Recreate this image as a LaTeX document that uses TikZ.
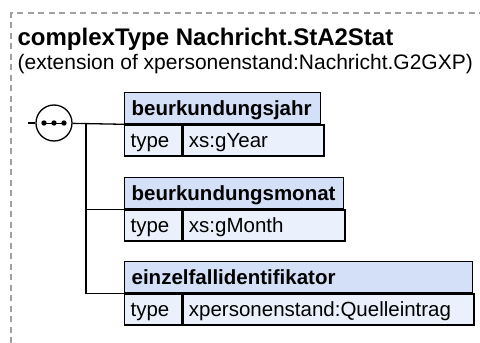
\documentclass[tikz,border=0pt]{standalone}
\usepackage{fontspec}
\setmainfont{Liberation Sans}
\usetikzlibrary{positioning}
\definecolor{hdrblue}{HTML}{D4E0F7}
\definecolor{rowblue}{HTML}{EBF1FC}
\definecolor{frame}{HTML}{A0A0A0}
\begin{document}
\begin{tikzpicture}[x=1pt,y=-1pt,line width=1.3pt,
  hdr/.style={draw,fill=hdrblue,anchor=north west,inner xsep=7pt,inner ysep=0pt,minimum height=31pt,
    text height=15pt,text depth=0pt,align=left,font=\fontsize{20.5}{24}\selectfont\bfseries},
  cell/.style={draw,fill=rowblue,anchor=north west,inner xsep=6pt,inner ysep=0pt,minimum height=31pt,
    text height=15pt,text depth=0pt,align=left,font=\fontsize{20.5}{24}\selectfont}]
\useasboundingbox (0,0) rectangle (480,343);
% frame of the complex type
\draw[frame,line width=1.2pt,dash pattern=on 6pt off 4.5pt] (11,343) -- (11,13) -- (480,13);
\node[anchor=base west,inner sep=0pt,font=\fontsize{24}{28}\selectfont\bfseries] (title) at (17,45) {complexType Nachricht.StA2Stat};
\node[anchor=base west,inner sep=0pt,font=\fontsize{21}{25}\selectfont] (ext) at (17,69) {(extension of xpersonenstand:Nachricht.G2GXP)};
% sequence compositor
\node[draw,circle,fill=white,minimum size=36pt,inner sep=0pt] (seq) at (54,123) {};
\draw[line width=1pt] (44,123) -- (64,123);
\fill (44,123) circle (2.7pt) (54,123) circle (2.7pt) (64,123) circle (2.7pt);
\coordinate (in) at (28,123);
\coordinate (fork) at (86,123);
% elements
\node[hdr,text width=182pt] (h1) at (124,92) {beurkundungsjahr};
\node[cell,text width=45pt] (k1) at (h1.south west) {type};
\node[cell,text width=129pt] (v1) at (k1.north east) {xs:gYear};
\node[hdr,text width=205pt] (h2) at (124,177) {beurkundungsmonat};
\node[cell,text width=45pt] (k2) at (h2.south west) {type};
\node[cell,text width=150pt] (v2) at (k2.north east) {xs:gMonth};
\node[hdr,text width=334pt] (h3) at (124,261) {einzelfallidentifikator};
\node[cell,text width=45pt] (k3) at (h3.south west) {type};
\node[cell,text width=279pt] (v3) at (k3.north east) {xpersonenstand:Quelleintrag};
% connectors
\draw (in) -- (seq);
\draw (seq) -- (h1.south west);
\draw (fork) |- (h2.south west);
\draw (fork) |- (h3.south west);
\end{tikzpicture}
\end{document}
